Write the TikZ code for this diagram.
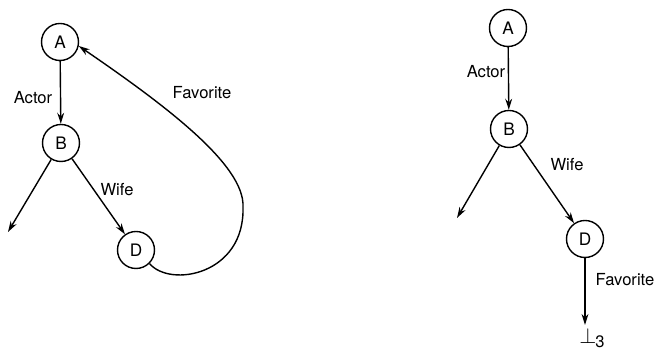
\documentclass[tikz,border=0pt]{standalone}
\usepackage{fontspec}
\setmainfont{TeX Gyre Heros}
\usetikzlibrary{arrows.meta}
\tikzset{
  vtx/.style={circle,draw=black,line width=.7pt,inner sep=0pt,minimum size=18.5pt,font=\fontsize{8.6}{10}\selectfont},
  edg/.style={line width=.7pt},
  arr/.style={edg,-{Stealth[length=5.5pt,width=3.4pt,inset=1.8pt]}},
  lbl/.style={font=\fontsize{8.3}{10}\selectfont,inner sep=0pt},
}

\begin{document}
\begin{tikzpicture}[x=.5pt,y=-.5pt]
  \useasboundingbox (0,0) rectangle (655,351);
  % left graph: the cycle through Favorite
  \node[vtx] (A1) at (60,42) {A};
  \node[vtx] (B1) at (61,143) {B};
  \node[vtx] (D1) at (136,250) {D};
  \coordinate (l1) at (8,232);
  \coordinate (c1) at (243,207);
  \draw[arr] (A1) -- (B1);
  \draw[arr] (B1) -- (l1);
  \draw[arr] (B1) -- (D1);
  \draw[arr] (D1.-45) .. controls (170,288) and (245,275) .. (c1)
    .. controls (245,165) and (165,105) .. (A1.-12);
  \node[lbl] at (33,98) {Actor};
  \node[lbl] at (117,190) {Wife};
  \node[lbl] at (202,93) {Favorite};
  % right graph: Favorite ends in bottom
  \node[vtx] (A2) at (508,28) {A};
  \node[vtx] (B2) at (509,129) {B};
  \node[vtx] (D2) at (585,239) {D};
  \coordinate (l2) at (457,218);
  \node[lbl,inner sep=1.5pt,anchor=north west] (bot) at (576,325)
    {\fontsize{11}{12}\selectfont$\perp$\kern-.5pt\raisebox{-1.8pt}{\fontsize{8.3}{10}\selectfont 3}};
  \draw[arr] (A2) -- (B2);
  \draw[arr] (B2) -- (l2);
  \draw[arr] (B2) -- (D2);
  \draw[arr] (D2) -- (D2 |- bot.north);
  \node[lbl] at (486,72) {Actor};
  \node[lbl] at (567,165) {Wife};
  \node[lbl] at (625,280) {Favorite};
\end{tikzpicture}
\end{document}
